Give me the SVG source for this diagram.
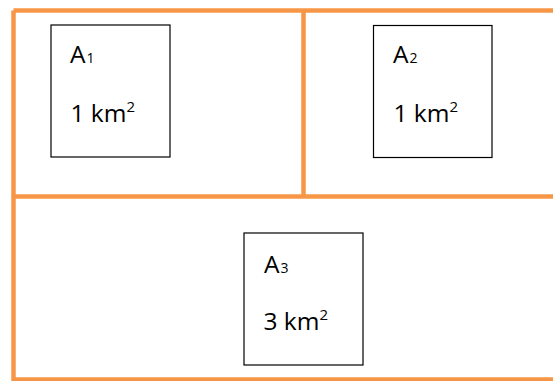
<svg xmlns="http://www.w3.org/2000/svg" width="553" height="381" viewBox="0 0 553 381">
<style>
.wall{stroke:#F79646;stroke-width:4.5;fill:none}
.box{fill:#fff;stroke:#000;stroke-width:1.2}
.t{font-family:"Open Sans","Liberation Sans",sans-serif;font-size:24.5px;fill:#000}
.sub{font-size:14px}
.sup{font-size:15px}
</style>
<rect width="553" height="381" fill="#fff"/>
<g id="walls">
<path class="wall" d="M13.5 10.5 H553 M13.5 10.5 V381 M13.5 196.5 H553 M303.5 10.5 V196.5 M13.5 379.5 H553"/>
</g>
<g id="A1">
<rect class="box" x="51" y="25" width="119" height="132"/>
<text class="t" x="70" y="63">A<tspan class="sub" dx="1">1</tspan></text>
<text class="t" x="70.5" y="122">1 km<tspan class="sup" dy="-10">2</tspan></text>
</g>
<g id="A2">
<rect class="box" x="373.5" y="25.5" width="118.5" height="132"/>
<text class="t" x="393" y="63">A<tspan class="sub" dx="1">2</tspan></text>
<text class="t" x="393.5" y="122">1 km<tspan class="sup" dy="-10">2</tspan></text>
</g>
<g id="A3">
<rect class="box" x="244" y="233" width="119" height="132"/>
<text class="t" x="264" y="273">A<tspan class="sub" dx="1">3</tspan></text>
<text class="t" x="263.5" y="330">3 km<tspan class="sup" dy="-10">2</tspan></text>
</g>
</svg>
